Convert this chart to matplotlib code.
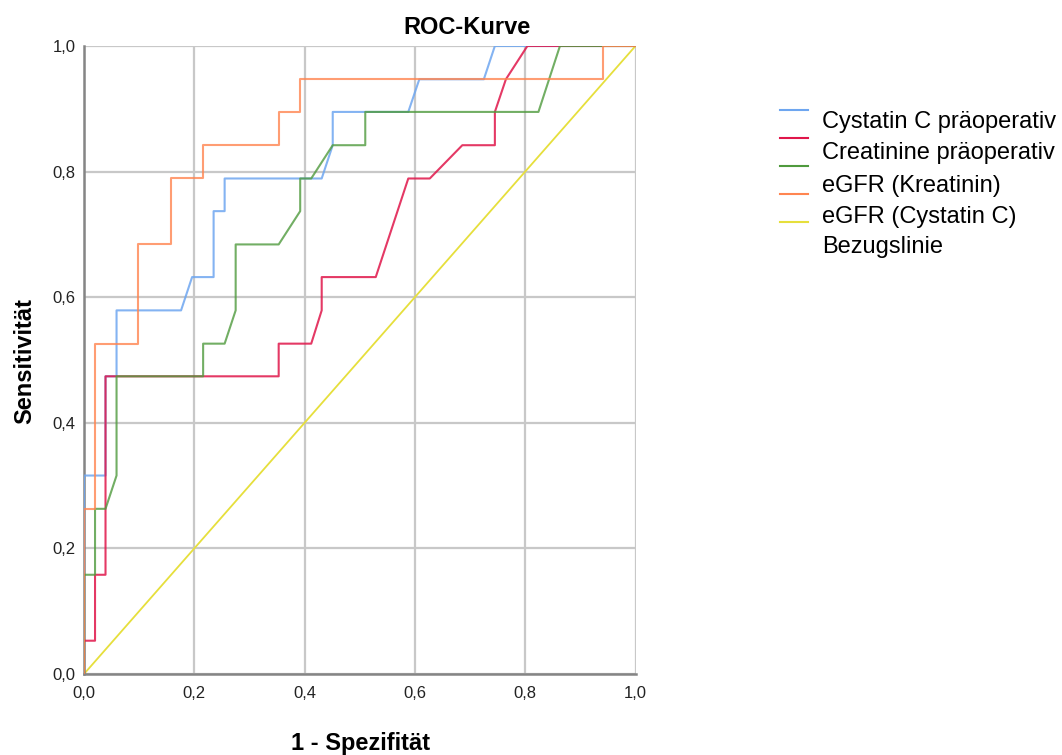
import numpy as np
import matplotlib
matplotlib.use("Agg")
import matplotlib.pyplot as plt
from matplotlib.lines import Line2D

plt.rcParams['font.family'] = ['Liberation Sans', 'DejaVu Sans']

# ROC-Daten (1 - Spezifitaet, Sensitivitaet)
cyst_x = [0, 0, 0.039, 0.039, 0.059, 0.059, 0.176, 0.196, 0.235, 0.235, 0.255, 0.255,
          0.431, 0.451, 0.451, 0.588, 0.608, 0.725, 0.745, 1.0]
cyst_y = [0, 0.316, 0.316, 0.474, 0.474, 0.579, 0.579, 0.632, 0.632, 0.737, 0.737, 0.789,
          0.789, 0.842, 0.895, 0.895, 0.947, 0.947, 1.0, 1.0]

crea_x = [0, 0, 0.020, 0.020, 0.039, 0.039, 0.353, 0.353, 0.412, 0.431, 0.431, 0.529,
          0.588, 0.627, 0.686, 0.745, 0.745, 0.765, 0.804, 1.0]
crea_y = [0, 0.053, 0.053, 0.158, 0.158, 0.474, 0.474, 0.526, 0.526, 0.579, 0.632, 0.632,
          0.789, 0.789, 0.842, 0.842, 0.895, 0.947, 1.0, 1.0]

egfr_k_x = [0, 0, 0.020, 0.020, 0.039, 0.059, 0.059, 0.216, 0.216, 0.255, 0.275, 0.275,
            0.353, 0.392, 0.392, 0.412, 0.451, 0.510, 0.510, 0.824, 0.863, 1.0]
egfr_k_y = [0, 0.158, 0.158, 0.263, 0.263, 0.316, 0.474, 0.474, 0.526, 0.526, 0.579, 0.684,
            0.684, 0.737, 0.789, 0.789, 0.842, 0.842, 0.895, 0.895, 1.0, 1.0]

egfr_c_x = [0, 0, 0.020, 0.020, 0.098, 0.098, 0.157, 0.157, 0.216, 0.216, 0.353, 0.353,
            0.392, 0.392, 0.941, 0.941, 1.0]
egfr_c_y = [0, 0.263, 0.263, 0.526, 0.526, 0.684, 0.684, 0.789, 0.789, 0.842, 0.842, 0.895,
            0.895, 0.947, 0.947, 1.0, 1.0]

ref_x = [0, 1]
ref_y = [0, 1]

ticks = [0, 0.2, 0.4, 0.6, 0.8, 1.0]
tick_labels = ['0,0', '0,2', '0,4', '0,6', '0,8', '1,0']

labels = ['Cystatin C präoperativ', 'Creatinine präoperativ', 'eGFR (Kreatinin)',
          'eGFR (Cystatin C)', 'Bezugslinie']
colors = ['#6ea6f0', '#e0164a', '#4f9a3d', '#ff8550', '#e6df3c']

fig = plt.figure(figsize=(10.62, 7.55), dpi=100)
ax = fig.add_axes([0.0791, 0.1073, 0.5193, 0.8318])

lw = 1.5
ax.plot(cyst_x, cyst_y, color=colors[0], lw=lw, alpha=0.85, zorder=3)
ax.plot(crea_x, crea_y, color=colors[1], lw=lw, alpha=0.85, zorder=3)
ax.plot(egfr_k_x, egfr_k_y, color=colors[2], lw=lw, alpha=0.8, zorder=3)
ax.plot(egfr_c_x, egfr_c_y, color=colors[3], lw=lw, alpha=0.8, zorder=3)
ax.plot(ref_x, ref_y, color=colors[4], lw=1.3, zorder=2)

ax.set_xlim(0, 1)
ax.set_ylim(0, 1)
ax.set_xticks(ticks)
ax.set_xticklabels(tick_labels)
ax.set_yticks(ticks)
ax.set_yticklabels(tick_labels)
ax.tick_params(length=0, labelsize=12, colors='#222222')
ax.tick_params(axis='x', pad=9)
ax.tick_params(axis='y', pad=6)
ax.grid(True, color='#c8c8c8', lw=1.6, zorder=0)
ax.set_axisbelow(True)
for s in ['top', 'right']:
    ax.spines[s].set_visible(False)
for s in ['left', 'bottom']:
    ax.spines[s].set_color('#858585')
    ax.spines[s].set_linewidth(1.8)

fig.text(466.7/1062, 1 - 34.3/755, 'ROC-Kurve', ha='center', va='baseline',
         fontsize=17, fontweight='bold')
fig.text(361/1062, 1 - 750/755, '1 - Spezifität', ha='center', va='baseline',
         fontsize=17, fontweight='bold')
fig.text(25/1062, 1 - 361/755, 'Sensitivität', ha='center', va='center',
         rotation=90, fontsize=17, fontweight='bold')

# Legende
line_y = [110, 138, 166, 194, 222]
text_y = [128.3, 159, 191.7, 222.7, 253.3]
for i in range(5):
    yy = 1 - line_y[i]/755
    fig.add_artist(Line2D([780/1062, 808/1062], [yy, yy], color=colors[i], lw=1.5,
                          transform=fig.transFigure))
    fig.text(822/1062, 1 - text_y[i]/755, labels[i], ha='left', va='baseline',
             fontsize=17)

plt.savefig("out.png", dpi=100)
